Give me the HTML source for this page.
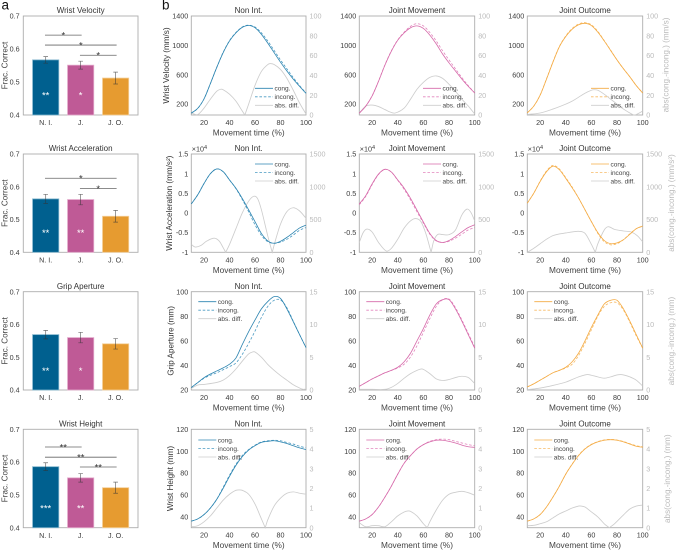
<!DOCTYPE html>
<html lang="en">
<head>
<meta charset="utf-8">
<title>Movement kinematics figure</title>
<style>
html,body{margin:0;padding:0;background:#fff;width:676px;height:551px;overflow:hidden}
svg{display:block;filter:blur(0.3px)}
text{font-family:"Liberation Sans",sans-serif;fill:#3c3c3c}
</style>
</head>
<body>
<svg id="figure" xmlns="http://www.w3.org/2000/svg" width="676" height="551" viewBox="0 0 676 551">
  <text x="1.5" y="9.5" font-size="13.5" style="fill:#111">a</text>
  <text x="162" y="9.5" font-size="13.5" style="fill:#111">b</text>
</svg>
<script>
// ---------- bar chart data ----------
const barCategories = ['N. I.', 'J.', 'J. O.'];
const barTitles = ['Wrist Velocity', 'Wrist Acceleration', 'Grip Aperture', 'Wrist Height'];
const barTicks = [0.4, 0.5, 0.6, 0.7];

const meansVelocity = [0.567, 0.551, 0.512];
const errorsVelocity = [0.010, 0.012, 0.018];
const starsVelocity = ['**', '*', ''];
const sigFromVelocity = [1, 1, 2];
const sigToVelocity = [2, 3, 3];
const sigLevelVelocity = [0.642, 0.612, 0.581];
const sigLabelVelocity = ['*', '*', '*'];

const meansAcceleration = [0.563, 0.561, 0.510];
const errorsAcceleration = [0.014, 0.016, 0.018];
const starsAcceleration = ['**', '**', ''];
const sigFromAcceleration = [1, 2];
const sigToAcceleration = [3, 3];
const sigLevelAcceleration = [0.626, 0.595];
const sigLabelAcceleration = ['*', '*'];

const meansAperture = [0.569, 0.560, 0.541];
const errorsAperture = [0.013, 0.016, 0.016];
const starsAperture = ['**', '*', ''];
const sigFromAperture = [];
const sigToAperture = [];
const sigLevelAperture = [];
const sigLabelAperture = [];

const meansHeight = [0.586, 0.552, 0.522];
const errorsHeight = [0.012, 0.013, 0.017];
const starsHeight = ['***', '**', ''];
const sigFromHeight = [1, 1, 2];
const sigToHeight = [2, 3, 3];
const sigLevelHeight = [0.646, 0.615, 0.585];
const sigLabelHeight = ['**', '**', '**'];

// ---------- line chart data ----------
const timeAxis = [10,15,20,25,30,35,40,45,50,55,60,65,70,75,80,85,90,95,100];
const timeTicks = [20,40,60,80,100];
const columnTitles = ['Non Int.', 'Joint Movement', 'Joint Outcome'];
const legendLabels = ['cong.', 'incong.', 'abs. diff.'];

const velCongNI = [75,140,270,480,700,900,1060,1170,1245,1270,1240,1150,1030,900,770,650,540,440,345];
const velIncNI  = [75,140,270,480,700,905,1065,1175,1250,1275,1250,1170,1060,930,800,680,560,450,350];
const velDiffTNI = [10,15,20,25,30,33,35,40,45,50,52,55,60,65,70,72,75,80,85,90,95,100];
const velDiffNI  = [2,0.5,7,16,24,26,25.5,21,14,4,0,11,30,44,51,52,51,46,37,25,12,1];

const velCongJM = [75,170,310,510,730,920,1070,1170,1240,1265,1230,1140,1020,880,760,650,540,440,350];
const velIncJM  = [75,172,312,512,735,925,1075,1180,1260,1295,1265,1175,1060,925,800,680,560,450,350];
const velDiffTJM = [10,15,20,25,30,34,38,45,50,55,60,65,70,75,80,85,90,95,100];
const velDiffJM  = [2,9,10,8.5,5.5,3,2,7,16,26,33,38,39.5,37,31,24,16,9,1];

const velCongJO = [80,170,320,540,770,980,1120,1220,1280,1300,1270,1180,1060,930,800,680,570,450,350];
const velIncJO  = [80,170,322,545,775,985,1128,1230,1290,1310,1280,1190,1065,935,800,680,570,452,350];
const velDiffTJO = [10,20,30,40,45,50,55,60,62,65,70,75,80,85,90,93,95,100];
const velDiffJO  = [0.5,2,6,11,14,18,22,25,25.5,25,21,16,11,6,2,0,0.5,4];

const accCongNI = [0.23,0.46,0.75,1.00,1.12,1.05,0.84,0.63,0.37,0.08,-0.22,-0.52,-0.71,-0.77,-0.72,-0.62,-0.50,-0.38,-0.31];
const accIncNI  = [0.23,0.46,0.75,1.00,1.12,1.05,0.84,0.62,0.34,0.03,-0.30,-0.57,-0.73,-0.77,-0.74,-0.67,-0.56,-0.44,-0.37];
const accDiffTNI = [10,13,18,22,28,32,35,37,40,45,50,55,59,62,65,70,73.5,76,80,85,90,95,100];
const accDiffNI  = [120,80,110,170,215,170,70,0,120,360,600,780,855,820,650,250,0,180,430,620,680,630,520];

const accCongJM = [0.23,0.44,0.74,0.99,1.11,1.04,0.84,0.63,0.37,0.07,-0.23,-0.52,-0.70,-0.75,-0.70,-0.60,-0.48,-0.37,-0.30];
const accIncJM  = [0.21,0.42,0.72,0.98,1.11,1.04,0.83,0.60,0.33,0.03,-0.26,-0.54,-0.71,-0.75,-0.72,-0.64,-0.54,-0.43,-0.37];
const accDiffTJM = [10,13,16,20,25,31,35,40,45,50,54,58,62,66,68,71,75,80,85,90,94,97,100];
const accDiffJM  = [150,300,355,310,150,20,60,200,370,480,515,470,280,0,170,270,270,270,340,570,660,610,480];

const accCongJO = [0.25,0.50,0.80,1.05,1.19,1.10,0.88,0.64,0.38,0.08,-0.22,-0.50,-0.70,-0.78,-0.76,-0.68,-0.54,-0.40,-0.33];
const accIncJO  = [0.25,0.50,0.81,1.07,1.21,1.12,0.90,0.66,0.38,0.08,-0.22,-0.52,-0.73,-0.81,-0.78,-0.68,-0.53,-0.40,-0.34];
const accDiffTJO = [10,15,20,25,30,35,40,45,50,55,60,63,65,70,73,78,85,91,96,100];
const accDiffJO  = [0,60,130,200,255,280,295,310,320,290,120,0,130,340,390,350,325,310,250,160];

const gripCongNI = [22,26,30,33,35.5,38,41,46,57,67.5,77,86,92,96,94.5,86,75.6,65,54.5];
const gripIncNI  = [22,26,29.5,32,34,36.5,39,42,49,58,68,79,88,93,93.3,87,76,65,54.5];
const gripDiffTNI = [10,15,20,30,35,40,45,50,55,58,60,65,70,75,80,85,90,95,98,100];
const gripDiffNI  = [0.25,0.75,0.85,1.15,1.5,2.2,3.2,4.4,5.5,5.8,5.8,5.0,3.9,3,2.2,1.5,0.8,0.3,0.1,0.2];

const gripCongJM = [23,26,29,31.5,34,36,38.5,43,50,60,70,81,90,93.5,93.5,86,76,65,54];
const gripIncJM  = [23,26,29,31.5,34,36,38,41,47,56,67,78,88,93.5,94,87,77,66,55];
const gripDiffTJM = [10,20,30,35,40,45,50,55,58,60,65,70,75,80,85,90,95,100];
const gripDiffJM  = [0.1,0.1,0.1,0.4,1,1.8,2.5,3,3.2,3.15,2.5,1.7,1.45,1.6,1.9,2.1,1.9,1];

const gripCongJO = [22.5,25,28,31,34,36,38.5,43,50,60,71,81,90,93,93,86,76,65,54];
const gripIncJO  = [22.5,25,28,31,34,36,38,41,48,58,69,80,88,91,91,85,75,64,54];
const gripDiffTJO = [10,20,30,40,45,50,55,57,60,65,70,75,80,83,85,90,95,100];
const gripDiffJO  = [0.05,0.3,0.7,1.2,1.6,2,2.3,2.35,2.25,2,1.8,2,2.3,2.35,2.3,2,1.5,0.6];

const heightCongNI = [36,38,42,48,56,66,77,87,95,101,105,108,109,109.5,108.5,107,105,103,101.5];
const heightIncNI  = [36,38,42,48,56,67,78,88,96,101.5,105.5,108.5,109.5,110,109.5,108,106.5,104.5,103];
const heightDiffTNI = [10,15,20,25,30,35,40,45,48,50,55,60,65,68,70,75,80,85,90,95,100];
const heightDiffNI  = [0.05,0.1,0.3,0.6,1,1.4,1.7,1.9,1.92,1.9,1.7,1.2,0.45,0,0.4,1.1,1.5,1.75,1.82,1.75,1.7];

const heightCongJM = [36,38,42,49,58,68,79,89,96,102,106,108.5,110,110,109,107.5,105.5,104,103.5];
const heightIncJM  = [36,38,42,49,58,68,79,89,96,102,106,109,110.5,111,110.5,109,107.5,106,105];
const heightDiffTJM = [10,15,20,25,30,35,40,45,48,50,55,60,63,65,70,75,80,85,90,95,100];
const heightDiffJM  = [0.25,0.05,0.1,0.1,0.05,0.3,0.6,0.8,0.85,0.83,0.6,0.2,0,0.3,0.9,1.4,1.7,1.8,1.85,1.78,1.65];

const heightCongJO = [36,38,42,49,58,68,79,88,96,102,106,108.5,110,110.5,110,108.5,106.5,104.5,103.5];
const heightIncJO  = [36,38,42,49,58,68,79,88.3,96.3,102.3,106.3,108.8,110.3,110.8,110.2,108.8,106.8,105,104];
const heightDiffTJO = [10,15,20,25,30,35,40,45,50,52,55,60,65,70,74,78,85,90,95,100];
const heightDiffJO  = [0.1,0.12,0.2,0.3,0.5,0.7,0.85,1,1.1,1.1,1.05,0.8,0.55,0.2,0,0.2,0.65,0.95,1.1,1.15];

// ---------- layout and styling (not data) ----------
const SVGNS = 'http://www.w3.org/2000/svg';
const fig = document.getElementById('figure');
const rowTop = [16, 154, 291.7, 429.3];
const rowBottom = [115, 252.3, 390, 527.7];
const barLeft = 23.3, barRight = 138;
const colLeft = [191.3, 359.3, 527.3];
const colRight = [306, 474.7, 642.7];
const palette = [
  {bar:'#00608f', edge:'#7fb4cc', line:'#2c84b0', dash:'#4a9ac2', slug:'non-int'},
  {bar:'#bf5a96', edge:'#e3a9cb', line:'#d66aaa', dash:'#e285bd', slug:'joint-movement'},
  {bar:'#e69b30', edge:'#f4cf98', line:'#f4ab44', dash:'#f7bb66', slug:'joint-outcome'}
];
const grayText = '#bbbbbb';

function mk(tag, attrs, text) {
  const e = document.createElementNS(SVGNS, tag);
  for (const k in attrs) e.setAttribute(k, attrs[k]);
  if (text !== undefined) e.textContent = text;
  fig.appendChild(e);
  return e;
}
function label(name, x, y, size, str, anchor, color, rot) {
  const attrs = {x: x, y: y, 'font-size': size, 'text-anchor': anchor || 'start'};
  if (color) attrs.style = 'fill:' + color;
  if (rot) attrs.transform = 'rotate(' + rot + ' ' + x + ' ' + y + ')';
  const t = mk('text', attrs, str);
  
  
  return t;
}
function box(name, l, t, r, b) {
  const f = mk('rect', {x: l, y: t, width: r - l, height: b - t, fill: 'none', stroke: '#adadad', 'stroke-width': 0.9});
  
  
}
function scale(d0, d1, r0, r1) {
  return function (v) { return r0 + (v - d0) / (d1 - d0) * (r1 - r0); };
}
function segmentPath(pts) {
  let d = '';
  const n = pts.length;
  const slope = [];
  for (let i = 0; i < n; i++) {
    const a = pts[Math.max(i - 1, 0)], b = pts[Math.min(i + 1, n - 1)];
    slope.push((b[1] - a[1]) / (b[0] - a[0]));
  }
  for (let i = 0; i < n - 1; i++) {
    const h = (pts[i + 1][0] - pts[i][0]) / 3;
    d += ' C' + (pts[i][0] + h).toFixed(2) + ' ' + (pts[i][1] + slope[i] * h).toFixed(2) + ' ' +
         (pts[i + 1][0] - h).toFixed(2) + ' ' + (pts[i + 1][1] - slope[i + 1] * h).toFixed(2) + ' ' +
         pts[i + 1][0].toFixed(2) + ' ' + pts[i + 1][1].toFixed(2);
  }
  return d;
}
function curvePath(ts, vs, sx, sy) {
  // Curves are split at exact zeros so abs. diff. keeps its sharp cusps.
  let d = 'M' + sx(ts[0]).toFixed(2) + ' ' + sy(vs[0]).toFixed(2);
  let seg = [[sx(ts[0]), sy(vs[0])]];
  for (let i = 1; i < ts.length; i++) {
    seg.push([sx(ts[i]), sy(vs[i])]);
    if (vs[i] === 0 && i < ts.length - 1) {
      d += segmentPath(seg);
      seg = [[sx(ts[i]), sy(vs[i])]];
    }
  }
  return d + segmentPath(seg);
}

// ---------- bar panels ----------
const barRows = [
  {m: meansVelocity, e: errorsVelocity, s: starsVelocity, f: sigFromVelocity, t: sigToVelocity, l: sigLevelVelocity, n: sigLabelVelocity},
  {m: meansAcceleration, e: errorsAcceleration, s: starsAcceleration, f: sigFromAcceleration, t: sigToAcceleration, l: sigLevelAcceleration, n: sigLabelAcceleration},
  {m: meansAperture, e: errorsAperture, s: starsAperture, f: sigFromAperture, t: sigToAperture, l: sigLevelAperture, n: sigLabelAperture},
  {m: meansHeight, e: errorsHeight, s: starsHeight, f: sigFromHeight, t: sigToHeight, l: sigLevelHeight, n: sigLabelHeight}
];
barRows.forEach(function (row, r) {
  const top = rowTop[r], bottom = rowBottom[r];
  const sy = scale(0.4, 0.7, bottom, top);
  const sx = scale(0.36, 3.64, barLeft, barRight);
  const unit = sx(1) - sx(0);
  box('bar-axes-box-' + r, barLeft, top, barRight, bottom);
  label('bar-title-' + r, (barLeft + barRight) / 2, top - 2.8, 8, barTitles[r], 'middle', '#333');
  label('bar-y-axis-title-' + r, 7.3, (top + bottom) / 2, 8.15, 'Frac. Correct', 'middle', '#444', -90);
  barTicks.forEach(function (tk) {
    label('bar-y-tick', 19.6, sy(tk) + 2.6, 7.2, tk.toFixed(1), 'end');
  });
  row.m.forEach(function (v, i) {
    const cx = sx(i + 1), c = palette[i];
    const w = unit * 0.75;
    const bar = mk('rect', {x: cx - w / 2, y: sy(v), width: w, height: sy(0.4) - sy(v), fill: c.bar, stroke: c.edge, 'stroke-width': 0.8});
    
    
    const err = mk('path', {
      d: 'M' + cx + ' ' + sy(v - row.e[i]) + 'V' + sy(v + row.e[i]) +
         'M' + (cx - 2.3) + ' ' + sy(v - row.e[i]) + 'h4.6M' + (cx - 2.3) + ' ' + sy(v + row.e[i]) + 'h4.6',
      fill: 'none', stroke: '#333', 'stroke-opacity': 0.7, 'stroke-width': 0.7
    });
    
    
    label('bar-category-label', cx, bottom + 10.2, 7.2, barCategories[i], 'middle');
    if (row.s[i]) {
      label('bar-significance-stars', cx, sy(0.466) + 5.5, 9.5, row.s[i], 'middle', '#ffffff');
    }
  });
  row.l.forEach(function (lv, k) {
    const x0 = sx(row.f[k]) - 0.7, x1 = sx(row.t[k]) + 1;
    const ln = mk('line', {x1: x0, x2: x1, y1: sy(lv), y2: sy(lv), stroke: '#666', 'stroke-width': 0.8});
    
    
    label('significance-label', (x0 + x1) / 2, sy(lv) + 3.4, 9.5, row.n[k], 'middle', '#333');
  });
});

// ---------- line panels ----------
const lineRows = [
  {lo: 50, hi: 1400, ticks: [200,600,1000,1400], rhi: 100, rticks: [0,20,40,60,80,100],
   ylabel: 'Wrist Velocity (mm/s)', ylx: 169, rlabel: 'abs(cong.-incong.) (mm/s)', rlx: 668.5, rly: 65,
   legTop: 88.3, legX: 63.7,
   cong: [velCongNI, velCongJM, velCongJO], inc: [velIncNI, velIncJM, velIncJO],
   dt: [velDiffTNI, velDiffTJM, velDiffTJO], dv: [velDiffNI, velDiffJM, velDiffJO]},
  {lo: -1, hi: 1.5, ticks: [-1,-0.5,0,0.5,1,1.5], rhi: 1500, rticks: [0,500,1000,1500],
   ylabel: 'Wrist Acceleration (mm/s²)', ylx: 171.8, rlabel: 'abs(cong.-incong.) (mm/s²)', rlx: 674, rly: 203,
   legTop: 164, legX: 63.7,
   cong: [accCongNI, accCongJM, accCongJO], inc: [accIncNI, accIncJM, accIncJO],
   dt: [accDiffTNI, accDiffTJM, accDiffTJO], dv: [accDiffNI, accDiffJM, accDiffJO]},
  {lo: 20, hi: 100, ticks: [20,40,60,80,100], rhi: 15, rticks: [0,5,10,15],
   ylabel: 'Grip Aperture (mm)', ylx: 173.5, rlabel: 'abs(cong.-incong.) (mm)', rlx: 674, rly: 341,
   legTop: 301.7, legX: 7,
   cong: [gripCongNI, gripCongJM, gripCongJO], inc: [gripIncNI, gripIncJM, gripIncJO],
   dt: [gripDiffTNI, gripDiffTJM, gripDiffTJO], dv: [gripDiffNI, gripDiffJM, gripDiffJO]},
  {lo: 30, hi: 120, ticks: [40,60,80,100,120], rhi: 5, rticks: [0,1,2,3,4,5],
   ylabel: 'Wrist Height (mm)', ylx: 172.8, rlabel: 'abs(cong.-incong.) (mm)', rlx: 670.2, rly: 478.7,
   legTop: 440, legX: 7,
   cong: [heightCongNI, heightCongJM, heightCongJO], inc: [heightIncNI, heightIncJM, heightIncJO],
   dt: [heightDiffTNI, heightDiffTJM, heightDiffTJO], dv: [heightDiffNI, heightDiffJM, heightDiffJO]}
];
lineRows.forEach(function (row, r) {
  const top = rowTop[r], bottom = rowBottom[r];
  const sy = scale(row.lo, row.hi, bottom, top);
  const syR = scale(0, row.rhi, bottom, top);
  if (row.ylabel) {
    label('y-axis-title', row.ylx, (top + bottom) / 2, 8.15, row.ylabel, 'middle', '#333', -90);
    label('right-axis-title', row.rlx, row.rly, 8.15, row.rlabel, 'middle', grayText, -90);
  }
  columnTitles.forEach(function (title, c) {
    const l = colLeft[c], rr = colRight[c], pal = palette[c];
    const sx = scale(10, 100, l, rr);
    box('line-axes-box', l, top, rr, bottom);
    label('line-panel-title', (l + rr) / 2, top - 2.8, 8, title, 'middle', '#333');
    label('x-axis-title', (l + rr) / 2, bottom + 20.5, 8.3, 'Movement time (%)', 'middle', '#444');
    timeTicks.forEach(function (tk) {
      label('x-tick', sx(tk), bottom + 10, 7.2, String(tk), 'middle');
    });
    row.ticks.forEach(function (tk) {
      label('y-tick', l - 3, sy(tk) + 2.6, 7.2, String(tk), 'end');
    });
    row.rticks.forEach(function (tk) {
      label('right-y-tick', rr + 3.5, syR(tk) + 2.6, 7.2, String(tk), 'start', grayText);
    });
    if (r === 1) {
      const mult = label('y-exponent', l + 0.5, top - 2.6, 7.2, '×10', 'start');
      const sup = document.createElementNS(SVGNS, 'tspan');
      sup.setAttribute('dy', '-2.5');
      sup.setAttribute('font-size', '5.5');
      sup.textContent = '4';
      mult.appendChild(sup);
    }
    const d = mk('path', {d: curvePath(row.dt[c], row.dv[c], sx, syR), fill: 'none', stroke: '#cdcdcd', 'stroke-width': 0.85});
    
    
    const li = mk('path', {d: curvePath(timeAxis, row.inc[c], sx, sy), fill: 'none', stroke: pal.dash, 'stroke-width': 0.8, 'stroke-dasharray': '2.6 1.8'});
    
    
    const lc = mk('path', {d: curvePath(timeAxis, row.cong[c], sx, sy), fill: 'none', stroke: pal.line, 'stroke-width': 0.8});
    
    
    // legend
    const lx = l + row.legX;
    legendLabels.forEach(function (txt, k) {
      const ly = row.legTop + k * 8.5;
      const attrs = {x1: lx, x2: lx + 18, y1: ly, y2: ly, 'stroke-width': 0.85,
                     stroke: k === 2 ? '#cdcdcd' : (k === 0 ? pal.line : pal.dash)};
      if (k === 1) attrs['stroke-dasharray'] = '2.6 1.8';
      const key = mk('line', attrs);
      
      
      label('legend-label', lx + 19.5, ly + 2.3, 6.5, txt, 'start', '#444');
    });
  });
});
</script>
</body>
</html>
